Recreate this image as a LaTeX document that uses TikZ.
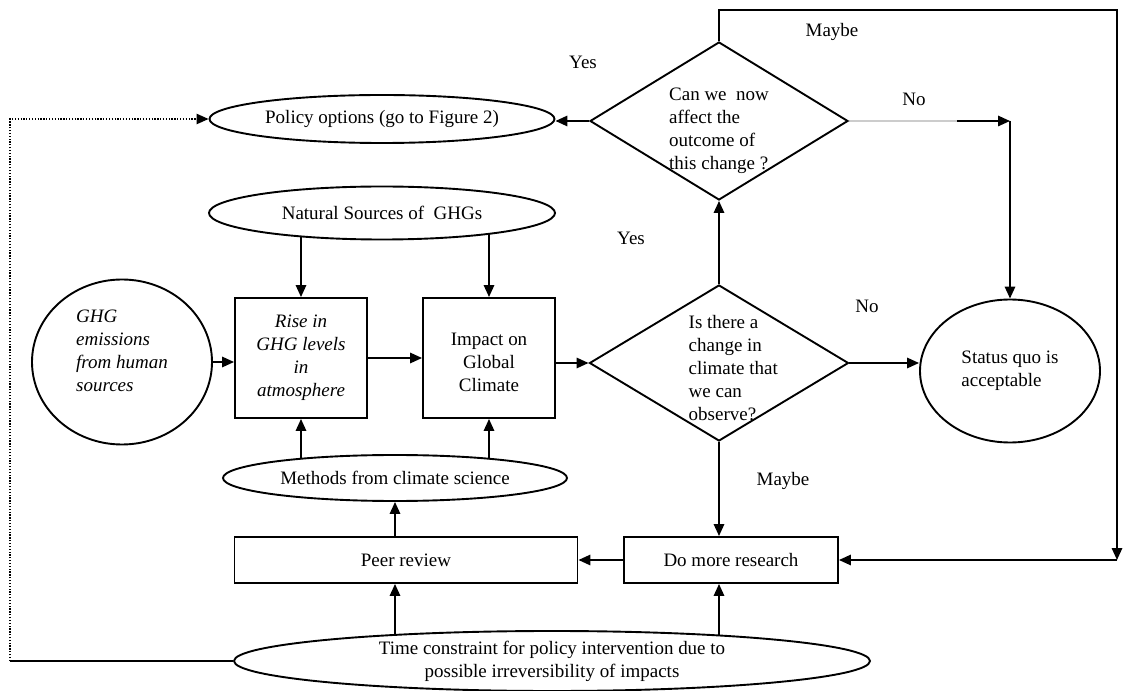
\documentclass[tikz,border=0pt,12pt]{standalone}
\usepackage{fontspec}
\setmainfont{Liberation Serif}
\usetikzlibrary{arrows.meta,shapes.geometric,backgrounds}
\newlength\ux
\setlength\ux{0.632pt}

\begin{document}
\begin{tikzpicture}[x=0.632pt, y=-0.632pt,
    box/.style={draw, line width=1.2pt, fill=white, inner sep=0pt},
    oval/.style={ellipse, draw, line width=1.2pt, fill=white, inner sep=0pt},
    dec/.style={diamond, draw, line width=1.2pt, fill=white, inner sep=0pt},
    arr/.style={line width=1.2pt, -{Triangle[length=7.5pt,width=6.5pt]}},
    tip/.style={-{Triangle[length=7.5pt,width=6.5pt]}}]
    \useasboundingbox (0,0) rectangle (1125,691);

    % Policy options and the second question
    \node[oval, inner xsep=-5pt, minimum width={345*\ux}, minimum height={48*\ux}] (pol) at (382,119) {Policy options (go to Figure 2)};
    \node[dec, minimum width={258*\ux}, minimum height={158*\ux},
        label={[align=left, yshift=-6pt]center:Can we\ \ now\\affect the\\outcome of\\this change ?}] (tdia) at (719,121) {};

    % Sources and the main chain
    \node[oval, minimum width={346*\ux}, minimum height={53*\ux}] (nat) at (382,213) {Natural Sources of\ \ GHGs};
    \node[oval, minimum width={180*\ux}, minimum height={165*\ux},
        label={[align=left, font=\itshape, yshift=7pt]center:GHG\\emissions\\from human\\sources}] (ghg) at (122,362) {};
    \node[box, align=center, font=\itshape, minimum width={132*\ux}, minimum height={120*\ux}] (rise) at (301,358) {Rise in\\GHG levels\\in\\atmosphere};
    \node[box, minimum width={132*\ux}, minimum height={120*\ux},
        label={[align=center, yshift=-3pt]center:Impact on\\Global\\Climate}] (imp) at (489,358) {};
    \node[dec, minimum width={259*\ux}, minimum height={156*\ux},
        label={[align=left, xshift=9pt, yshift=-3pt]center:Is there a\\change in\\climate that\\we can\\observe?}] (dia) at (719,363) {};
    \node[oval, align=left, minimum width={180*\ux}, minimum height={143*\ux}] (sq) at (1010,371) {Status quo is\\acceptable};

    % Lower part
    \node[oval, minimum width={344*\ux}, minimum height={46*\ux}] (meth) at (395,478) {Methods from climate science};
    \node[box, minimum width={343*\ux}, minimum height={46*\ux}] (peer) at (406,560) {Peer review};
    \node[box, minimum width={214*\ux}, minimum height={46*\ux}] (dmr) at (731,560) {Do more research};
    \node[oval, align=center, minimum width={636*\ux}, minimum height={60*\ux}] (time) at (552,661) {Time constraint for policy intervention due to\\possible irreversibility of impacts};

    % Answers
    \node (yes1) at (583,62) {Yes};
    \node (maybe1) at (832,32) {Maybe};
    \node (no1) at (914,99) {No};
    \node (yes2) at (631,238) {Yes};
    \node (no2) at (867,306) {No};
    \node (maybe2) at (783,481) {Maybe};

    % Corners of the long connectors
    \coordinate (rt) at (1117,10);
    \coordinate (lb) at (10,661);
    \coordinate (nmid) at (957,121);

    \begin{scope}[on background layer]
    \draw[arr] (ghg.east) -- (ghg.east -| rise.west);
    \draw[arr] (rise.east) -- (imp.west);
    \draw[arr] (imp.east |- dia.west) -- (dia.west);
    \draw[arr] (rise.north |- nat.center) -- (rise.north);
    \draw[arr] (imp.north |- nat.center) -- (imp.north);
    \draw[arr] (rise.south |- meth.center) -- (rise.south);
    \draw[arr] (imp.south |- meth.center) -- (imp.south);
    \draw[arr] (meth.south |- peer.north) -- (meth.south);
    \draw[arr] (meth.south |- time.center) -- (meth.south |- peer.south);
    \draw[arr] (dia.south |- time.center) -- (dia.south |- dmr.south);
    \draw[arr] (dia.south) -- (dia.south |- dmr.north);
    \draw[arr] (dmr.west) -- (peer.east);
    \draw[arr] (dia.east) -- (dia.east -| sq.west);
    \draw[arr] (dia.north) -- (tdia.south);
    \draw[arr] (tdia.west) -- (tdia.west -| pol.east);
    \draw[gray!40, line width=1.2pt] (tdia.east) -- (nmid);
    \draw[arr] (nmid) -- (nmid -| sq.north);
    \draw[arr] (nmid -| sq.north) -- (sq.north);
    \draw[arr] (tdia.north) |- (rt) -- (rt |- dmr.east);
    \draw[arr] (rt |- dmr.east) -- (dmr.east);
    \draw[line width=1.2pt] (time.west) -- (time.west -| lb);
    \draw[densely dotted, line width=0.8pt, tip] (time.west -| lb) -- (lb |- pol.west) -- (pol.west);
    \end{scope}
\end{tikzpicture}
\end{document}
